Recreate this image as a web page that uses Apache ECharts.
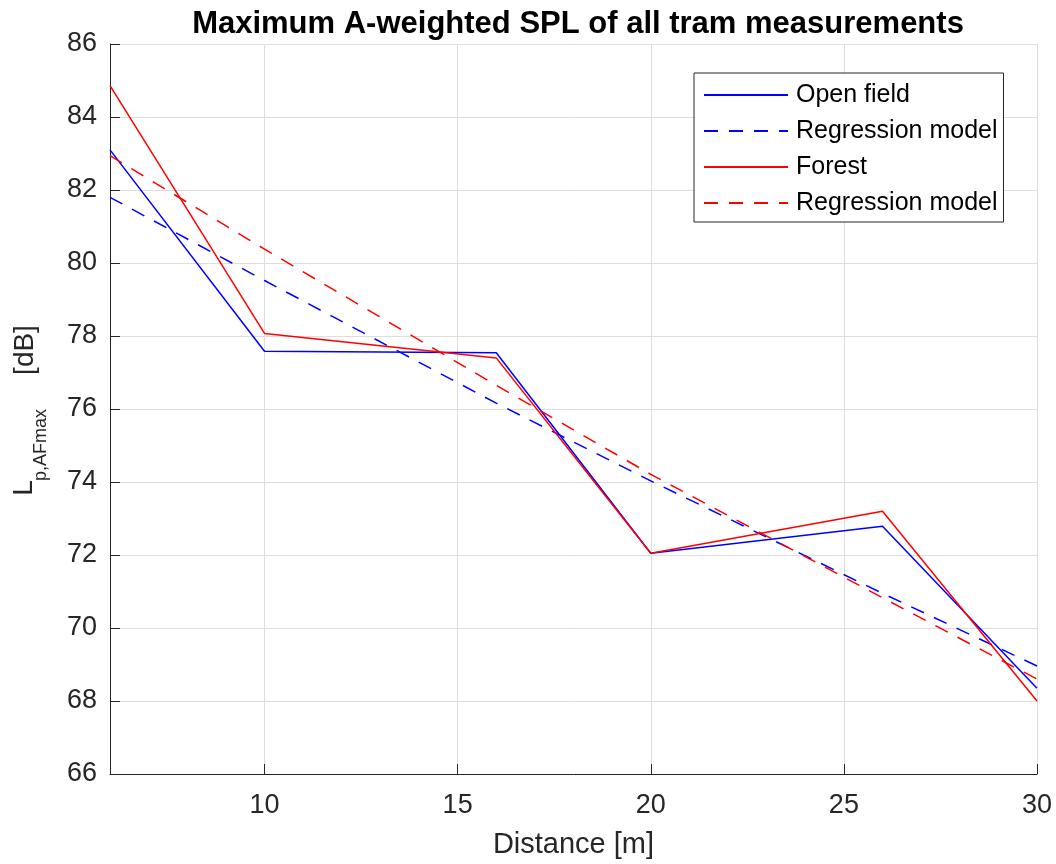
<!DOCTYPE html>
<html>
<head>
<meta charset="utf-8">
<title>Maximum A-weighted SPL of all tram measurements</title>
<script src="https://cdn.jsdelivr.net/npm/echarts@6/dist/echarts.min.js"></script>
<style>
    html, body { margin: 0; padding: 0; background: #fff; }
    #chart { width: 1056px; height: 864px; }
</style>
</head>
<body>
<div id="chart"></div>
<script>
// distances of the measurements [m]
var distances = [6, 10, 16, 20, 26, 30];
// maximum A-weighted SPL [dB]
var openField = [83.1, 77.58, 77.54, 72.05, 72.79, 68.35];
var openFieldModel = [81.8, 79.52, 76.16, 74.03, 70.95, 68.96];
var forest = [84.86, 78.07, 77.4, 72.05, 73.2, 68.0];
var forestModel = [82.94, 80.38, 76.65, 74.21, 70.83, 68.6];

var seriesNames = ["Open field", "Regression model (open field)", "Forest", "Regression model (forest)"];

var FONT = "Liberation Sans, Arial, Helvetica, sans-serif";
var AXIS_COLOR = "#262626";
var GRID_COLOR = "#dedede";

function pairs(xs, ys) {
    return xs.map(function (x, i) {
        return [x, ys[i]];
    });
}

function lineSeries(name, values, color, dashed) {
    return {
        name: name,
        type: "line",
        data: pairs(distances, values),
        symbol: "none",
        lineStyle: {
            color: color,
            width: 1.5,
            type: dashed ? [14, 11] : "solid"
        },
        itemStyle: {color: color}
    };
}

var option = {
    animation: false,
    backgroundColor: "#fff",
    title: {
        text: "Maximum A-weighted SPL of all tram measurements",
        left: 573,
        textAlign: "center",
        top: 4,
        textStyle: {
            fontFamily: FONT,
            fontSize: 31,
            fontWeight: "bold",
            color: "#000"
        }
    },
    grid: {
        left: 110,
        right: 19,
        top: 44,
        bottom: 89
    },
    legend: {
        orient: "vertical",
        left: 694,
        top: 73,
        padding: [9, 6, 6, 9],
        itemWidth: 84,
        itemHeight: 14,
        itemGap: 10,
        backgroundColor: "#fff",
        borderColor: AXIS_COLOR,
        borderWidth: 1,
        // hide the marker drawn on the legend line, keep only the line
        itemStyle: {color: "rgba(0,0,0,0)", borderWidth: 0},
        data: seriesNames,
        formatter: function (name) {
            return name.indexOf("Regression") === 0 ? "Regression model" : name;
        },
        textStyle: {
            fontFamily: FONT,
            fontSize: 25,
            lineHeight: 26,
            color: "#000",
            padding: [0, 0, 0, 3]
        }
    },
    xAxis: {
        type: "value",
        min: 6,
        max: 30,
        splitNumber: 5,
        name: "Distance [m]",
        nameLocation: "middle",
        nameGap: 56,
        nameTextStyle: {
            fontFamily: FONT,
            fontSize: 29,
            color: AXIS_COLOR
        },
        axisLine: {lineStyle: {color: AXIS_COLOR, width: 1}},
        axisTick: {inside: true, length: 10, lineStyle: {color: AXIS_COLOR}},
        axisLabel: {
            showMinLabel: false,
            margin: 18,
            fontFamily: FONT,
            fontSize: 27,
            color: AXIS_COLOR
        },
        splitLine: {show: true, lineStyle: {color: GRID_COLOR, width: 1}}
    },
    yAxis: {
        type: "value",
        min: 66,
        max: 86,
        interval: 2,
        axisLine: {show: true, lineStyle: {color: AXIS_COLOR, width: 1}},
        axisTick: {show: true, inside: true, length: 10, lineStyle: {color: AXIS_COLOR}},
        axisLabel: {
            margin: 13,
            fontFamily: FONT,
            fontSize: 27,
            color: AXIS_COLOR
        },
        splitLine: {show: true, lineStyle: {color: GRID_COLOR, width: 1}}
    },
    graphic: [
        {
            type: "text",
            x: 24, y: 488, rotation: Math.PI / 2,
            style: {text: "L", font: "28px " + FONT, fill: AXIS_COLOR, align: "center", verticalAlign: "middle"}
        },
        {
            type: "text",
            x: 41, y: 445, rotation: Math.PI / 2,
            style: {text: "p,AFmax", font: "18px " + FONT, fill: AXIS_COLOR, align: "center", verticalAlign: "middle"}
        },
        {
            type: "text",
            x: 25, y: 350, rotation: Math.PI / 2,
            style: {text: "[dB]", font: "28px " + FONT, fill: AXIS_COLOR, align: "center", verticalAlign: "middle"}
        }
    ],
    series: [
        lineSeries(seriesNames[0], openField, "#0000ff", false),
        lineSeries(seriesNames[1], openFieldModel, "#0000ff", true),
        lineSeries(seriesNames[2], forest, "#ff0000", false),
        lineSeries(seriesNames[3], forestModel, "#ff0000", true)
    ]
};

var chart = echarts.init(document.getElementById("chart"), null, {renderer: "canvas"});
chart.setOption(option);
</script>
</body>
</html>
